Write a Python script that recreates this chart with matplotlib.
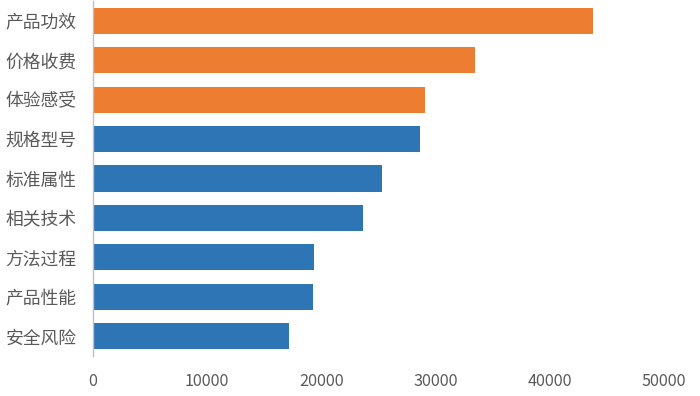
import matplotlib
matplotlib.use("Agg")
import matplotlib.pyplot as plt

plt.rcParams['font.family'] = ['Noto Sans CJK SC', 'DejaVu Sans']

categories = ["产品功效", "价格收费", "体验感受", "规格型号", "标准属性", "相关技术", "方法过程", "产品性能", "安全风险"]
values = [43750, 33450, 29080, 28650, 25330, 23670, 19390, 19300, 17120]
highlight = [True, True, True, False, False, False, False, False, False]
xticks = [0, 10000, 20000, 30000, 40000, 50000]

orange = "#ED7D31"
blue = "#2E75B6"

fig = plt.figure(figsize=(7.0, 3.96), dpi=100)
ax = fig.add_axes([93/700, 1 - 356/396, (664-93)/700, 355/396])

colors = [orange if h else blue for h in highlight]
ypos = list(range(len(categories)))
ax.barh(ypos, values, height=0.66, color=colors)
ax.set_ylim(len(categories) - 0.5, -0.5)
ax.set_yticks(ypos)
ax.set_yticklabels(categories, fontsize=12.8, color="#595959")
ax.set_xlim(0, 50000)
ax.set_xticks(xticks)
ax.set_xticklabels([str(t) for t in xticks], fontsize=11.7, color="#595959")
ax.tick_params(axis='both', length=0)
ax.tick_params(axis='y', pad=12)
ax.tick_params(axis='x', pad=12)
for s in ["top", "right", "bottom"]:
    ax.spines[s].set_visible(False)
ax.spines["left"].set_color("#BFBFBF")
ax.spines["left"].set_linewidth(1.0)

fig.savefig("out.png", dpi=100)
